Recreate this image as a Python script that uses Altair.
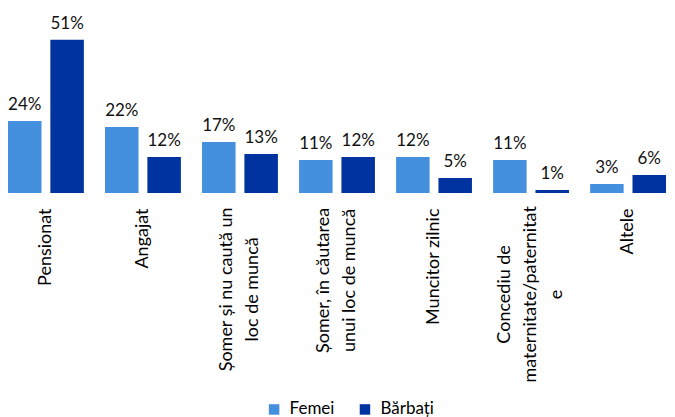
import altair as alt
import pandas as pd

categories = [
    "Pensionat",
    "Angajat",
    "Șomer și nu caută un|loc de muncă",
    "Șomer, în căutarea|unui loc de muncă",
    "Muncitor zilnic",
    "Concediu de|maternitate/paternitat|e",
    "Altele",
]
series = ["Femei", "Bărbați"]
femei = [24, 22, 17, 11, 12, 11, 3]
barbati = [51, 12, 13, 12, 5, 1, 6]
colors = ["#448fde", "#0033a0"]

rows = []
for c, f, b in zip(categories, femei, barbati):
    rows.append({"cat": c, "sex": "Femei", "value": f, "label": f"{f}%"})
    rows.append({"cat": c, "sex": "Bărbați", "value": b, "label": f"{b}%"})
df = pd.DataFrame(rows)

FONT = "Lato"
LH = 26
PAD = 15

x = alt.X(
    "cat:N",
    sort=categories,
    scale=alt.Scale(paddingInner=0.218, paddingOuter=0),
    axis=alt.Axis(
        title=None,
        labelAngle=-90,
        domain=False,
        ticks=False,
        grid=False,
        labelExpr="split(datum.label, '|')",
        labelFontSize=18,
        labelFont=FONT,
        labelColor="#000000",
        labelLineHeight=LH,
        labelLimit=400,
        labelBaseline="middle",
        labelAlign={
            "condition": {"test": "indexof(datum.value, '|') >= 0", "value": "center"},
            "value": "right",
        },
        labelPadding={
            "condition": [
                {"test": "indexof(datum.value, 'nu caut') >= 0", "value": PAD + 81},
                {"test": "indexof(datum.value, 'rea|') >= 0", "value": PAD + 72},
                {"test": "indexof(datum.value, 'Concediu') >= 0", "value": PAD + 86},
            ],
            "value": PAD,
        },
        labelOffset={
            "condition": [
                {"test": "length(split(datum.value, '|')) == 3", "value": -LH},
                {"test": "length(split(datum.value, '|')) == 2", "value": -LH / 2},
            ],
            "value": 0,
        },
    ),
)
xo = alt.XOffset("sex:N", sort=series, scale=alt.Scale(paddingInner=0.209))
y = alt.Y("value:Q", scale=alt.Scale(domain=[0, 61.5]), axis=None)

base = alt.Chart(df)

bars = base.mark_bar().encode(
    x=x,
    xOffset=xo,
    y=y,
    color=alt.Color(
        "sex:N",
        sort=series,
        scale=alt.Scale(domain=series, range=colors),
        legend=alt.Legend(
            title=None,
            orient="none",
            legendX=258,
            legendY=393,
            direction="horizontal",
            symbolType="square",
            symbolSize=110,
            symbolStrokeWidth=0,
            labelFontSize=17,
            labelFont=FONT,
            labelColor="#000000",
            labelOffset=7,
            columnPadding=22,
            padding=0,
        ),
    ),
)

text = base.mark_text(
    baseline="bottom", dy=-7, fontSize=17, font=FONT, color="#111111"
).encode(x=x, xOffset=xo, y=y, text="label:N")

chart = (
    (bars + text)
    .properties(width=659, height=185, padding=0)
    .configure_view(stroke=None)
)

chart.save("out.html", embed_options={"renderer": "svg", "actions": False})
